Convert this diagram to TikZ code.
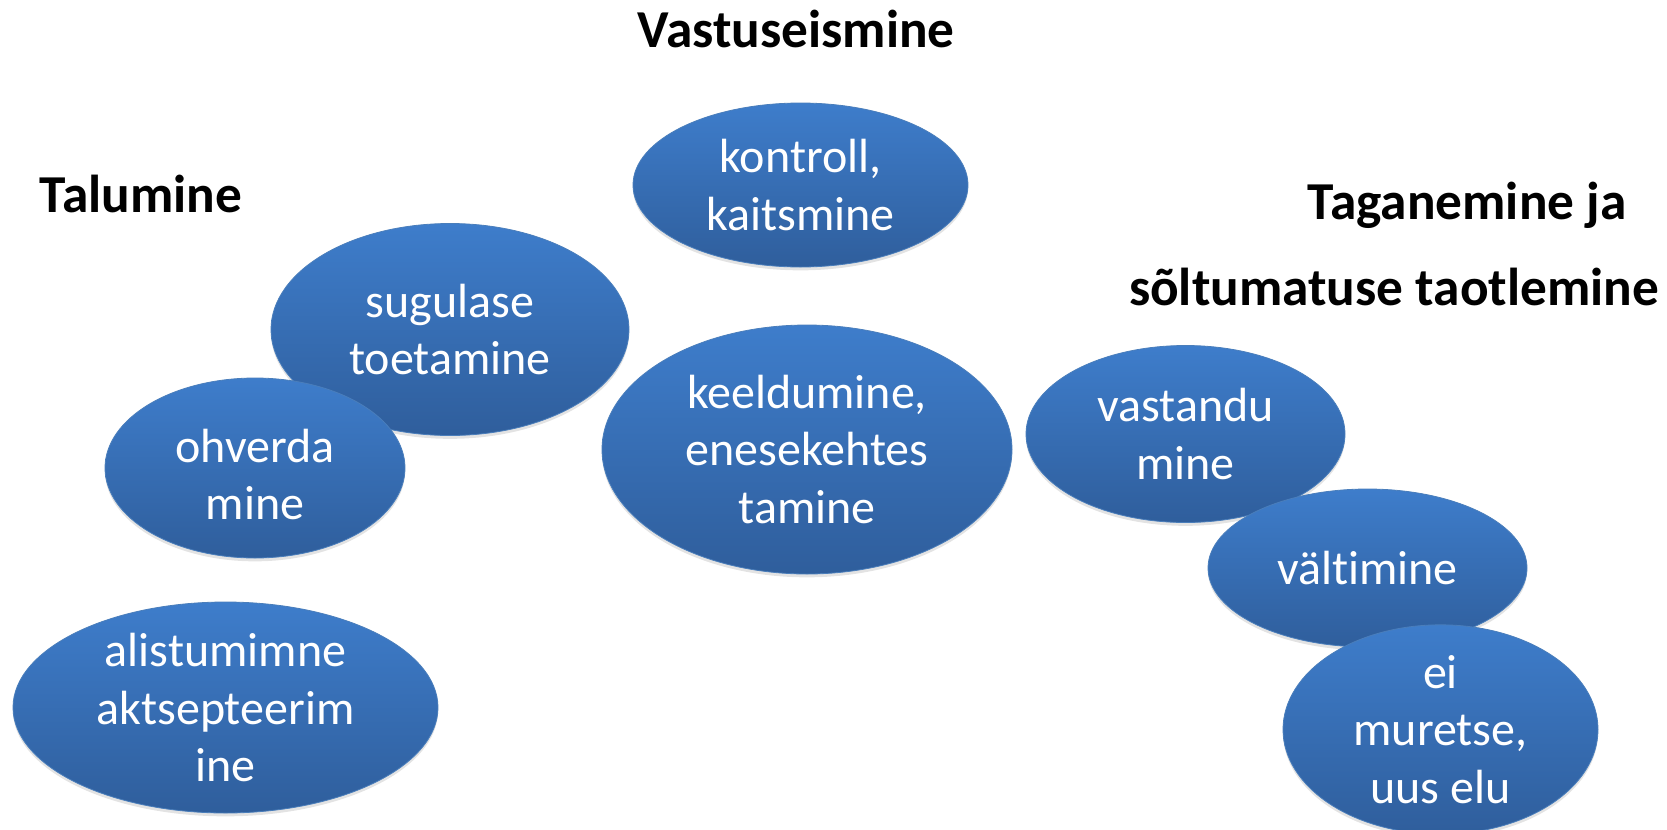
\documentclass[tikz,border=0pt]{standalone}
\usepackage{fontspec}
\setmainfont{Carlito}[Ligatures=NoCommon]
\usetikzlibrary{shapes.geometric,shadows}
\definecolor{blobtop}{HTML}{3E7DCB}
\definecolor{blobbot}{HTML}{2F5E9C}
\definecolor{blobedge}{HTML}{4A7EBB}
\tikzset{
  blob/.style 2 args={ellipse, inner sep=0pt, minimum width=#1*0.75pt, minimum height=#2*0.75pt,
    top color=blobtop, bottom color=blobbot, draw=blobedge, line width=0.6pt,
    drop shadow={opacity=0.22, shadow xshift=0pt, shadow yshift=-2.5pt},
    text=white, align=center, font=\fontsize{36}{43}\selectfont},
  blobtext/.style={inner sep=0pt, text=white, align=center, font=\fontsize{36}{43}\selectfont},
  ttl/.style={font=\fontsize{40}{50}\selectfont\bfseries, inner sep=0pt, anchor=base}
}
\begin{document}
\begin{tikzpicture}[x=0.75pt,y=-0.75pt]
\useasboundingbox (0,0) rectangle (1667,829);
\node[ttl] (t1) at (796,47) {Vastuseismine};
\node[ttl] (t2) at (141,212) {Talumine};
\node[ttl] (t3) at (1467,219) {Taganemine ja};
\node[ttl] (t4) at (1394,305) {sõltumatuse taotlemine};

\node[blob={335}{164}] (kontroll) at (800.5,185) {kontroll,\\kaitsmine};
\node[blob={358}{212}] (sugulase) at (450,329.5) {sugulase\\toetamine};
\node[blob={410}{249}] (keeld) at (807,449.5) {keeldumine,\\enesekehtes\\tamine};
\node[blob={300}{180}] (ohverda) at (255,468) {};
\node[blobtext] (ohverdatxt) at ([yshift=-5pt]ohverda.center) {ohverda\\mine};
\node[blob={425}{211}] (alist) at (225.5,707.5) {alistumimne\\aktsepteerim\\ine};
\node[blob={319}{177}] (vastandu) at (1185.5,434) {vastandu\\mine};
\node[blob={319}{158}] (valt) at (1367.5,568) {vältimine};
\node[blob={315}{195}] (ei) at (1440.5,729.5) {ei\\muretse,\\uus elu};
\end{tikzpicture}
\end{document}
